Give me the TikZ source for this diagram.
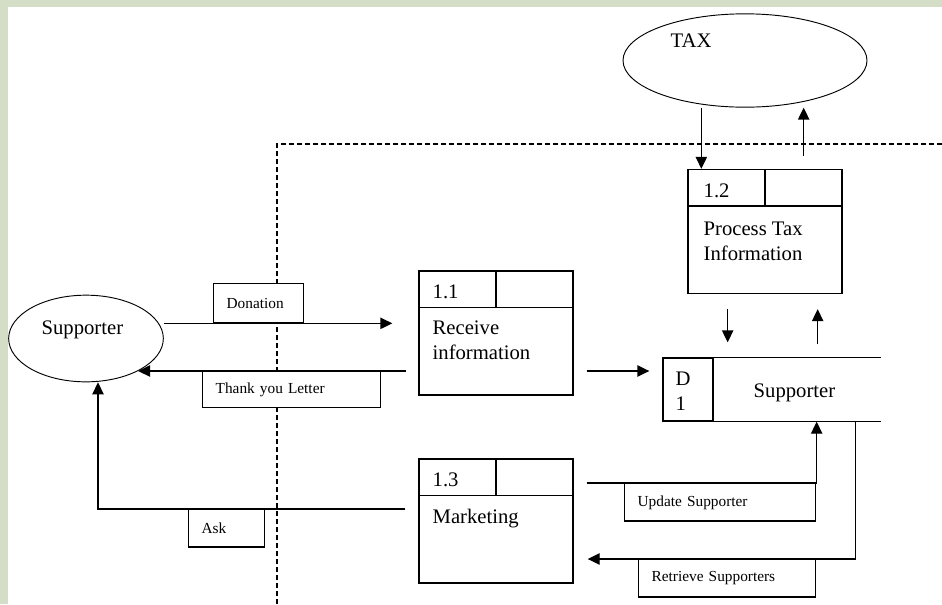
\documentclass[tikz,border=0pt]{standalone}
\usepackage{fontspec}
\setmainfont{Liberation Serif}
\usetikzlibrary{arrows.meta,shapes.geometric,positioning}

\definecolor{slidegreen}{RGB}{212,222,198}
\newcommand{\boxfont}{\fontsize{15.5}{18.75}\selectfont}
\newcommand{\flowfont}{\fontsize{11.5}{13}\selectfont}

\tikzset{every picture/.style={line width=1pt}}
\tikzset{
	procbox/.style={draw, minimum width=115.5pt, minimum height=93pt, inner sep=0pt},
	extent/.style={draw, ellipse, line width=0.7pt, inner sep=0pt},
	flowbox/.style={draw, fill=white, anchor=north west, font=\flowfont, align=left, inner xsep=9.75pt, inner ysep=0pt, minimum height=28pt},
	boxtxt/.style={font=\boxfont, inner sep=0pt, align=left},
	flow/.style={-{Triangle[length=9pt,width=8.5pt]}},
	boundary/.style={dash pattern=on 3.75pt off 2.25pt}
}

\begin{document}
\begin{tikzpicture}[x=0.75pt,y=0.75pt,yscale=-1,xscale=1]
	\useasboundingbox (0,0) rectangle (942,604);
	% slide background
	\fill[slidegreen] (0,0) rectangle (942,604);
	\fill[white] (8,7) rectangle (942,604);

	% system boundary
	\coordinate (bndtop) at (277,144);
	\draw[boundary] (277,604) -- (bndtop) -- (942,144);

	% external entities
	\node[extent, minimum width=116pt, minimum height=65pt] (sup) at (86,338.5) {};
	\node[boxtxt, anchor=base west] (suptxt) at (41,334) {Supporter};
	\node[extent, minimum width=183pt, minimum height=70pt] (tax) at (745,60.5) {};
	\node[boxtxt, anchor=base west] (taxtxt) at (670,47) {TAX};

	% processes (yshift is flipped by yscale=-1, so + goes down)
	\node[procbox] (p11) at (496,333) {};
	\node[procbox] (p12) at (765,231.5) {};
	\node[procbox] (p13) at (496,521) {};
	\foreach \p in {p11,p12,p13} {
		\draw ([yshift=27.75pt]\p.north west) -- ([yshift=27.75pt]\p.north east);
		\draw (\p.north) -- ([yshift=27.75pt]\p.north);
	}
	\node[boxtxt, anchor=base west] (p11id) at (432,298) {1.1};
	\node[boxtxt, anchor=north west] (p11name) at (432,320) {Receive\\information};
	\node[boxtxt, anchor=base west] (p12id) at (703,197) {1.2};
	\node[boxtxt, anchor=north west] (p12name) at (703,221) {Process Tax\\Information};
	\node[boxtxt, anchor=base west] (p13id) at (432,486) {1.3};
	\node[boxtxt, anchor=base west] (p13name) at (432,523) {Marketing};

	% data store
	\node[draw, minimum width=37.5pt, minimum height=47.25pt, inner sep=0pt] (dsid) at (688,389.5) {};
	\node[boxtxt, anchor=north west] (dsidtxt) at (675,371) {D\\1};
	\node[minimum width=124.5pt, minimum height=47.25pt, inner sep=0pt, anchor=west] (ds) at (dsid.east) {};
	\node[boxtxt, anchor=base west] (dstxt) at (753,397) {Supporter};
	\draw (ds.north west) -- (ds.north east);
	\draw (ds.south west) -- (ds.south east);

	% flow labels
	\node[flowbox, text width=48pt, minimum height=29.25pt] (lbldon) at (213,283) {Donation};
	\node[flowbox, text width=114pt, minimum height=27pt] (lblthx) at (202,371) {Thank you Letter};
	\node[flowbox, text width=37.5pt] (lblask) at (188,509) {Ask};
	\node[flowbox, text width=123.75pt] (lblupd) at (624,483) {Update Supporter};
	\node[flowbox, text width=113.25pt] (lblret) at (638,559) {Retrieve Supporters};

	% flows
	\draw[flow, shorten >=19.5pt] (sup.east |- lbldon.south) -- (p11.west |- lbldon.south);
	\draw[flow, shorten <=9pt] (p11.west |- lblthx.north) -- (sup.-32 |- lblthx.north);
	\draw[flow, shorten <=9.75pt, shorten >=9.75pt] (p11.east |- lblthx.north) -- (dsid.west |- lblthx.north);
	\draw[flow, shorten <=9.75pt] (p13.west |- lblask.north) -| ([xshift=9pt]sup.south);

	\coordinate (dsin) at ([xshift=77.25pt]ds.south west);
	\coordinate (dsout) at ([xshift=106.5pt]ds.south west);
	\draw[flow, shorten <=9.75pt] (p13.east |- lblupd.north) -| (dsin);
	\draw[flow, shorten >=10.5pt] (dsout) |- (p13.east |- lblret.north);

	\coordinate (p12in) at ([xshift=10.5pt]p12.north west);
	\coordinate (p12out) at ([xshift=-29.25pt,yshift=-9.75pt]p12.north east);
	\draw[flow] (tax.south -| p12in) -- (p12in);
	\draw[flow] (p12out) -- (tax.south -| p12out);

	\coordinate (dsdown) at ([xshift=10.5pt]ds.north west);
	\coordinate (dsupout) at ([xshift=78pt]ds.north west);
	\draw[flow, shorten <=11.25pt, shorten >=11.25pt] (p12.south -| dsdown) -- (dsdown);
	\draw[flow, shorten <=9.75pt, shorten >=11.25pt] (dsupout) -- (p12.south -| dsupout);

\end{tikzpicture}
\end{document}
